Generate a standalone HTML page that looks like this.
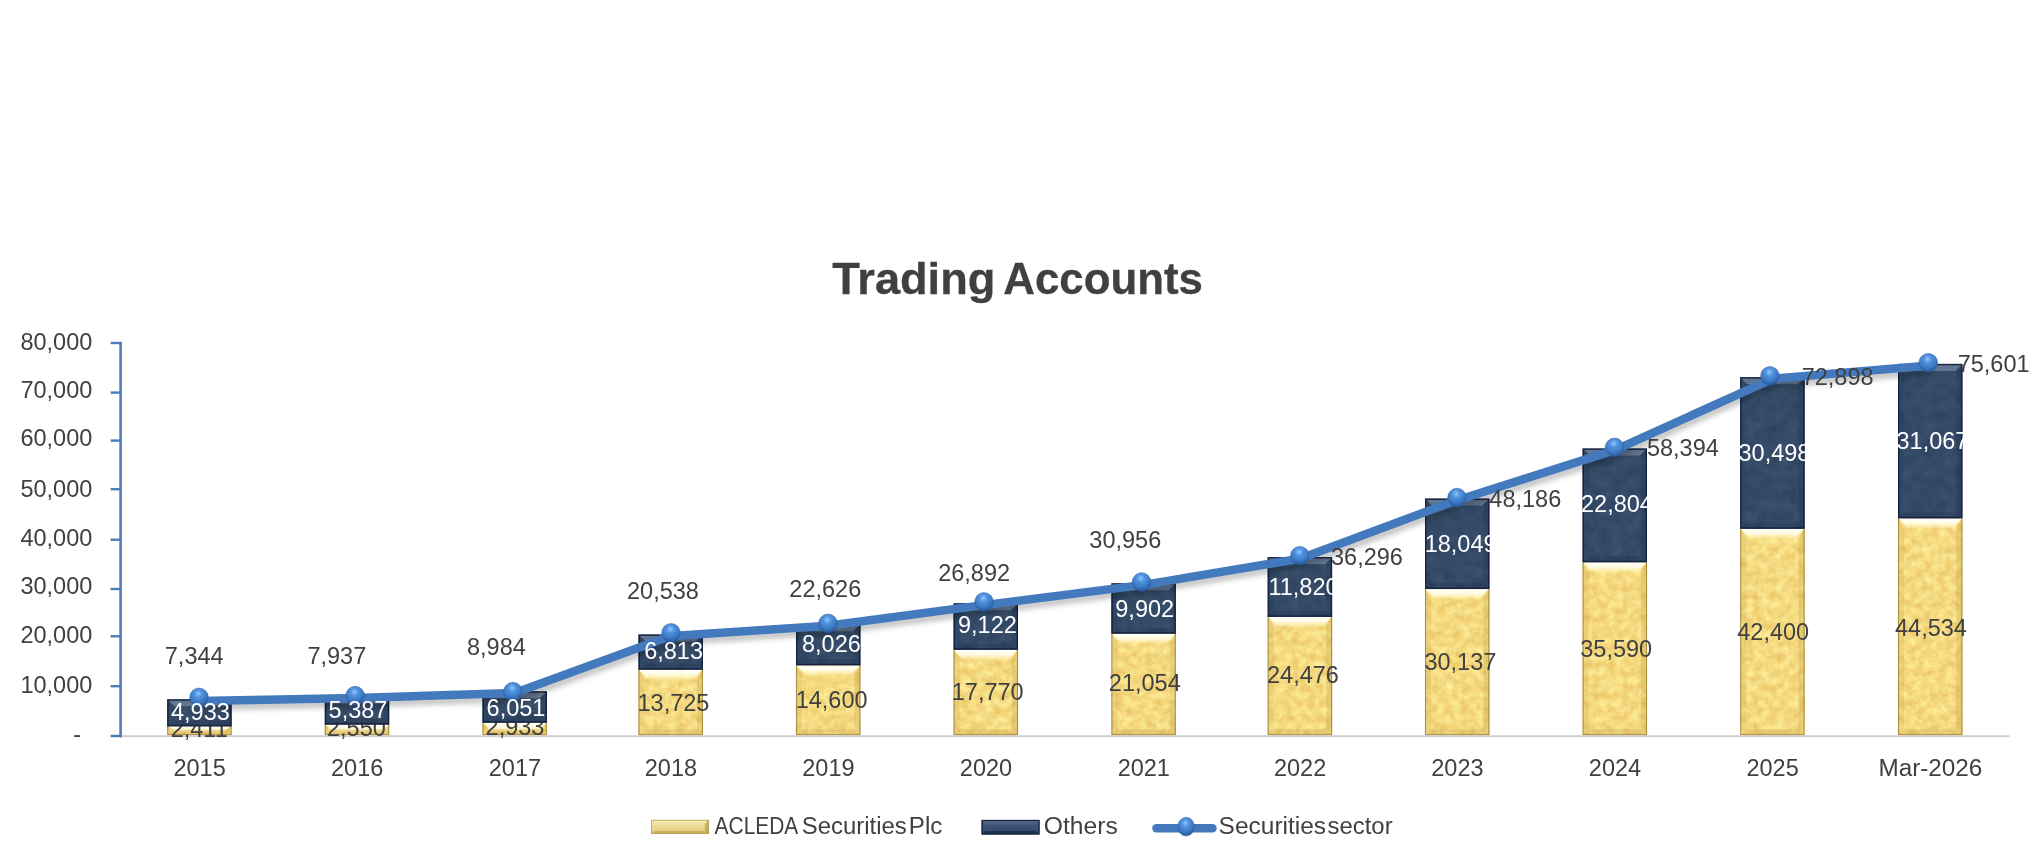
<!DOCTYPE html>
<html lang="en"><head><meta charset="utf-8"><title>Trading Accounts</title>
<style>
html,body{margin:0;padding:0;background:#fff;}
body{width:2034px;height:857px;overflow:hidden;font-family:"Liberation Sans",sans-serif;}
svg{display:block;position:absolute;left:0;top:0;}
text{font-family:"Liberation Sans",sans-serif;}
.lb{font-size:23.5px;fill:#404040;text-anchor:middle;}
.lw{font-size:23.5px;fill:#ffffff;text-anchor:middle;}
.ax{font-size:23.5px;fill:#404040;text-anchor:end;}
.lg{font-size:23.5px;fill:#404040;}
.ttl{font-size:44.3px;font-weight:bold;fill:#404040;stroke:#404040;stroke-width:0.3px;stroke-linejoin:round;}
</style></head><body>
<svg width="2034" height="857" viewBox="0 0 2034 857">
<defs>
<filter id="tex" x="0" y="0" width="100%" height="100%" color-interpolation-filters="sRGB">
<feTurbulence type="fractalNoise" baseFrequency="0.13" numOctaves="3" seed="11" result="n"/>
<feColorMatrix in="n" type="matrix" values="0.1 0 0 0 0.91  0.24 0 0 0 0.735  0.3 0 0 0 0.355  0 0 0 0 1" result="g"/>
<feComposite in="g" in2="SourceGraphic" operator="in"/>
</filter>
<filter id="texd" x="0" y="0" width="100%" height="100%" color-interpolation-filters="sRGB">
<feTurbulence type="fractalNoise" baseFrequency="0.09" numOctaves="2" seed="5" result="n"/>
<feColorMatrix in="n" type="matrix" values="0.08 0 0 0 0.166  0.09 0 0 0 0.248  0.1 0 0 0 0.355  0 0 0 0 1" result="g"/>
<feComposite in="g" in2="SourceGraphic" operator="in"/>
</filter>
<linearGradient id="gTop" x1="0" y1="0" x2="0" y2="1"><stop offset="0" stop-color="#ffffff" stop-opacity="1"/><stop offset="0.5" stop-color="#fffde8" stop-opacity="0.96"/><stop offset="0.8" stop-color="#fff6c4" stop-opacity="0.7"/><stop offset="1" stop-color="#fff0b0" stop-opacity="0.2"/></linearGradient>
<linearGradient id="lgG" x1="0" y1="0" x2="0" y2="1"><stop offset="0" stop-color="#f8efc0"/><stop offset="0.35" stop-color="#efe09c"/><stop offset="1" stop-color="#dcc574"/></linearGradient>
<linearGradient id="lgD" x1="0" y1="0" x2="0" y2="1"><stop offset="0" stop-color="#5d7290"/><stop offset="0.4" stop-color="#3d5373"/><stop offset="1" stop-color="#31466a"/></linearGradient>
<radialGradient id="mk" cx="0.46" cy="0.30" r="0.68"><stop offset="0" stop-color="#8ec8ff"/><stop offset="0.3" stop-color="#5293df"/><stop offset="0.7" stop-color="#3c79c4"/><stop offset="1" stop-color="#28599e"/></radialGradient>
<filter id="sh" x="-5%" y="-20%" width="110%" height="150%"><feGaussianBlur stdDeviation="2.7"/></filter>
<filter id="soft"><feGaussianBlur stdDeviation="0.6"/></filter>
</defs>
<g filter="url(#soft)">

<text class="ttl" y="293.9"><tspan x="832.2" textLength="163.2" lengthAdjust="spacingAndGlyphs">Trading</tspan> <tspan x="1003.3" textLength="199.6" lengthAdjust="spacingAndGlyphs">Accounts</tspan></text>
<text class="ax" x="81" y="742.3">-</text>
<text class="ax" x="92.3" y="693.4">10,000</text>
<text class="ax" x="92.3" y="643.3">20,000</text>
<text class="ax" x="92.3" y="594.0">30,000</text>
<text class="ax" x="92.3" y="546.2">40,000</text>
<text class="ax" x="92.3" y="496.6">50,000</text>
<text class="ax" x="92.3" y="446.2">60,000</text>
<text class="ax" x="92.3" y="398.0">70,000</text>
<text class="ax" x="92.3" y="350.2">80,000</text>
<g><rect x="167.2" y="724.4" width="64.4" height="10.8" fill="#ecd080" filter="url(#tex)"/><polygon points="167.2,724.4 231.6,724.4 223.2,732.5 175.6,732.5" fill="url(#gTop)"/><polygon points="167.2,724.4 172.6,732.5 172.6,729.8 167.2,735.2" fill="#c9a850" opacity="0.22"/><polygon points="231.6,724.4 226.2,732.5 226.2,729.8 231.6,735.2" fill="#b8963c" opacity="0.25"/><polygon points="167.2,735.2 172.6,729.8 226.2,729.8 231.6,735.2" fill="#c29f48" opacity="0.3"/><rect x="167.7" y="724.9" width="63.4" height="9.8" fill="none" stroke="#8f732a" stroke-width="1.1" opacity="0.7"/></g>
<g><rect x="324.8" y="723.7" width="64.4" height="11.5" fill="#ecd080" filter="url(#tex)"/><polygon points="324.8,723.7 389.2,723.7 380.4,732.3 333.6,732.3" fill="url(#gTop)"/><polygon points="324.8,723.7 330.6,732.3 330.6,729.4 324.8,735.2" fill="#c9a850" opacity="0.22"/><polygon points="389.2,723.7 383.4,732.3 383.4,729.4 389.2,735.2" fill="#b8963c" opacity="0.25"/><polygon points="324.8,735.2 330.6,729.4 383.4,729.4 389.2,735.2" fill="#c29f48" opacity="0.3"/><rect x="325.3" y="724.2" width="63.4" height="10.5" fill="none" stroke="#8f732a" stroke-width="1.1" opacity="0.7"/></g>
<g><rect x="482.5" y="721.8" width="64.4" height="13.4" fill="#ecd080" filter="url(#tex)"/><polygon points="482.5,721.8 546.9,721.8 537.9,731.8 491.5,731.8" fill="url(#gTop)"/><polygon points="482.5,721.8 488.5,731.8 488.5,729.2 482.5,735.2" fill="#c9a850" opacity="0.22"/><polygon points="546.9,721.8 540.9,731.8 540.9,729.2 546.9,735.2" fill="#b8963c" opacity="0.25"/><polygon points="482.5,735.2 488.5,729.2 540.9,729.2 546.9,735.2" fill="#c29f48" opacity="0.3"/><rect x="483.0" y="722.3" width="63.4" height="12.4" fill="none" stroke="#8f732a" stroke-width="1.1" opacity="0.7"/></g>
<g><rect x="638.5" y="668.8" width="64.4" height="66.4" fill="#ecd080" filter="url(#tex)"/><polygon points="638.5,668.8 702.9,668.8 693.9,679.8 647.5,679.8" fill="url(#gTop)"/><polygon points="638.5,668.8 644.5,679.8 644.5,729.2 638.5,735.2" fill="#c9a850" opacity="0.22"/><polygon points="702.9,668.8 696.9,679.8 696.9,729.2 702.9,735.2" fill="#b8963c" opacity="0.25"/><polygon points="638.5,735.2 644.5,729.2 696.9,729.2 702.9,735.2" fill="#c29f48" opacity="0.3"/><rect x="639.0" y="669.3" width="63.4" height="65.4" fill="none" stroke="#8f732a" stroke-width="1.1" opacity="0.7"/></g>
<g><rect x="796.0" y="664.5" width="64.4" height="70.7" fill="#ecd080" filter="url(#tex)"/><polygon points="796.0,664.5 860.4,664.5 851.4,675.5 805.0,675.5" fill="url(#gTop)"/><polygon points="796.0,664.5 802.0,675.5 802.0,729.2 796.0,735.2" fill="#c9a850" opacity="0.22"/><polygon points="860.4,664.5 854.4,675.5 854.4,729.2 860.4,735.2" fill="#b8963c" opacity="0.25"/><polygon points="796.0,735.2 802.0,729.2 854.4,729.2 860.4,735.2" fill="#c29f48" opacity="0.3"/><rect x="796.5" y="665.0" width="63.4" height="69.7" fill="none" stroke="#8f732a" stroke-width="1.1" opacity="0.7"/></g>
<g><rect x="953.6" y="648.9" width="64.4" height="86.3" fill="#ecd080" filter="url(#tex)"/><polygon points="953.6,648.9 1018.0,648.9 1009.0,659.9 962.6,659.9" fill="url(#gTop)"/><polygon points="953.6,648.9 959.6,659.9 959.6,729.2 953.6,735.2" fill="#c9a850" opacity="0.22"/><polygon points="1018.0,648.9 1012.0,659.9 1012.0,729.2 1018.0,735.2" fill="#b8963c" opacity="0.25"/><polygon points="953.6,735.2 959.6,729.2 1012.0,729.2 1018.0,735.2" fill="#c29f48" opacity="0.3"/><rect x="954.1" y="649.4" width="63.4" height="85.3" fill="none" stroke="#8f732a" stroke-width="1.1" opacity="0.7"/></g>
<g><rect x="1111.4" y="632.7" width="64.4" height="102.5" fill="#ecd080" filter="url(#tex)"/><polygon points="1111.4,632.7 1175.8,632.7 1166.8,643.7 1120.4,643.7" fill="url(#gTop)"/><polygon points="1111.4,632.7 1117.4,643.7 1117.4,729.2 1111.4,735.2" fill="#c9a850" opacity="0.22"/><polygon points="1175.8,632.7 1169.8,643.7 1169.8,729.2 1175.8,735.2" fill="#b8963c" opacity="0.25"/><polygon points="1111.4,735.2 1117.4,729.2 1169.8,729.2 1175.8,735.2" fill="#c29f48" opacity="0.3"/><rect x="1111.9" y="633.2" width="63.4" height="101.5" fill="none" stroke="#8f732a" stroke-width="1.1" opacity="0.7"/></g>
<g><rect x="1267.7" y="615.9" width="64.4" height="119.3" fill="#ecd080" filter="url(#tex)"/><polygon points="1267.7,615.9 1332.1,615.9 1323.1,626.9 1276.7,626.9" fill="url(#gTop)"/><polygon points="1267.7,615.9 1273.7,626.9 1273.7,729.2 1267.7,735.2" fill="#c9a850" opacity="0.22"/><polygon points="1332.1,615.9 1326.1,626.9 1326.1,729.2 1332.1,735.2" fill="#b8963c" opacity="0.25"/><polygon points="1267.7,735.2 1273.7,729.2 1326.1,729.2 1332.1,735.2" fill="#c29f48" opacity="0.3"/><rect x="1268.2" y="616.4" width="63.4" height="118.3" fill="none" stroke="#8f732a" stroke-width="1.1" opacity="0.7"/></g>
<g><rect x="1425.0" y="588.1" width="64.4" height="147.1" fill="#ecd080" filter="url(#tex)"/><polygon points="1425.0,588.1 1489.4,588.1 1480.4,599.1 1434.0,599.1" fill="url(#gTop)"/><polygon points="1425.0,588.1 1431.0,599.1 1431.0,729.2 1425.0,735.2" fill="#c9a850" opacity="0.22"/><polygon points="1489.4,588.1 1483.4,599.1 1483.4,729.2 1489.4,735.2" fill="#b8963c" opacity="0.25"/><polygon points="1425.0,735.2 1431.0,729.2 1483.4,729.2 1489.4,735.2" fill="#c29f48" opacity="0.3"/><rect x="1425.5" y="588.6" width="63.4" height="146.1" fill="none" stroke="#8f732a" stroke-width="1.1" opacity="0.7"/></g>
<g><rect x="1582.6" y="561.3" width="64.4" height="173.9" fill="#ecd080" filter="url(#tex)"/><polygon points="1582.6,561.3 1647.0,561.3 1638.0,572.3 1591.6,572.3" fill="url(#gTop)"/><polygon points="1582.6,561.3 1588.6,572.3 1588.6,729.2 1582.6,735.2" fill="#c9a850" opacity="0.22"/><polygon points="1647.0,561.3 1641.0,572.3 1641.0,729.2 1647.0,735.2" fill="#b8963c" opacity="0.25"/><polygon points="1582.6,735.2 1588.6,729.2 1641.0,729.2 1647.0,735.2" fill="#c29f48" opacity="0.3"/><rect x="1583.1" y="561.8" width="63.4" height="172.9" fill="none" stroke="#8f732a" stroke-width="1.1" opacity="0.7"/></g>
<g><rect x="1740.2" y="527.9" width="64.4" height="207.3" fill="#ecd080" filter="url(#tex)"/><polygon points="1740.2,527.9 1804.6,527.9 1795.6,538.9 1749.2,538.9" fill="url(#gTop)"/><polygon points="1740.2,527.9 1746.2,538.9 1746.2,729.2 1740.2,735.2" fill="#c9a850" opacity="0.22"/><polygon points="1804.6,527.9 1798.6,538.9 1798.6,729.2 1804.6,735.2" fill="#b8963c" opacity="0.25"/><polygon points="1740.2,735.2 1746.2,729.2 1798.6,729.2 1804.6,735.2" fill="#c29f48" opacity="0.3"/><rect x="1740.7" y="528.4" width="63.4" height="206.3" fill="none" stroke="#8f732a" stroke-width="1.1" opacity="0.7"/></g>
<g><rect x="1898.0" y="517.4" width="64.4" height="217.8" fill="#ecd080" filter="url(#tex)"/><polygon points="1898.0,517.4 1962.4,517.4 1953.4,528.4 1907.0,528.4" fill="url(#gTop)"/><polygon points="1898.0,517.4 1904.0,528.4 1904.0,729.2 1898.0,735.2" fill="#c9a850" opacity="0.22"/><polygon points="1962.4,517.4 1956.4,528.4 1956.4,729.2 1962.4,735.2" fill="#b8963c" opacity="0.25"/><polygon points="1898.0,735.2 1904.0,729.2 1956.4,729.2 1962.4,735.2" fill="#c29f48" opacity="0.3"/><rect x="1898.5" y="517.9" width="63.4" height="216.8" fill="none" stroke="#8f732a" stroke-width="1.1" opacity="0.7"/></g>
<rect x="120.6" y="735.2" width="1888.9" height="2" fill="#d2d2d2"/>
<text class="lb" x="199.2" y="737.3">2,411</text>
<text class="lb" x="356.4" y="736.4">2,550</text>
<text class="lb" x="515.0" y="735.4">2,933</text>
<text class="lb" x="673.5" y="710.8">13,725</text>
<text class="lb" x="831.6" y="708.1">14,600</text>
<text class="lb" x="987.7" y="700.3">17,770</text>
<text class="lb" x="1144.8" y="691.4">21,054</text>
<text class="lb" x="1303.0" y="683.3">24,476</text>
<text class="lb" x="1460.4" y="670.3">30,137</text>
<text class="lb" x="1616.2" y="656.7">35,590</text>
<text class="lb" x="1773.2" y="639.7">42,400</text>
<text class="lb" x="1931.0" y="636.2">44,534</text>
<g><rect x="167.2" y="699.3" width="64.4" height="27.0" fill="#364b6b" filter="url(#texd)"/><polygon points="167.2,699.3 231.6,699.3 224.6,706.3 174.2,706.3" fill="#8395ad" opacity="0.6"/><polygon points="167.2,699.3 173.2,705.3 173.2,720.4 167.2,726.4" fill="#24385a" opacity="0.15"/><polygon points="231.6,699.3 225.6,705.3 225.6,720.4 231.6,726.4" fill="#14233f" opacity="0.2"/><polygon points="167.2,726.4 173.2,720.4 225.6,720.4 231.6,726.4" fill="#14213a" opacity="0.18"/><rect x="167.9" y="700.0" width="63.0" height="25.6" fill="none" stroke="#0f1f3c" stroke-width="1.4" opacity="0.9"/></g>
<g><rect x="324.8" y="696.4" width="64.4" height="28.1" fill="#364b6b" filter="url(#texd)"/><polygon points="324.8,696.4 389.2,696.4 382.2,703.4 331.8,703.4" fill="#8395ad" opacity="0.6"/><polygon points="324.8,696.4 330.8,702.4 330.8,718.5 324.8,724.5" fill="#24385a" opacity="0.15"/><polygon points="389.2,696.4 383.2,702.4 383.2,718.5 389.2,724.5" fill="#14233f" opacity="0.2"/><polygon points="324.8,724.5 330.8,718.5 383.2,718.5 389.2,724.5" fill="#14213a" opacity="0.18"/><rect x="325.5" y="697.1" width="63.0" height="26.7" fill="none" stroke="#0f1f3c" stroke-width="1.4" opacity="0.9"/></g>
<g><rect x="482.5" y="691.3" width="64.4" height="31.3" fill="#364b6b" filter="url(#texd)"/><polygon points="482.5,691.3 546.9,691.3 539.9,698.3 489.5,698.3" fill="#8395ad" opacity="0.6"/><polygon points="482.5,691.3 488.5,697.3 488.5,716.6 482.5,722.6" fill="#24385a" opacity="0.15"/><polygon points="546.9,691.3 540.9,697.3 540.9,716.6 546.9,722.6" fill="#14233f" opacity="0.2"/><polygon points="482.5,722.6 488.5,716.6 540.9,716.6 546.9,722.6" fill="#14213a" opacity="0.18"/><rect x="483.2" y="692.0" width="63.0" height="29.9" fill="none" stroke="#0f1f3c" stroke-width="1.4" opacity="0.9"/></g>
<g><rect x="638.5" y="634.5" width="64.4" height="35.1" fill="#364b6b" filter="url(#texd)"/><polygon points="638.5,634.5 702.9,634.5 695.9,641.5 645.5,641.5" fill="#8395ad" opacity="0.6"/><polygon points="638.5,634.5 644.5,640.5 644.5,663.6 638.5,669.6" fill="#24385a" opacity="0.15"/><polygon points="702.9,634.5 696.9,640.5 696.9,663.6 702.9,669.6" fill="#14233f" opacity="0.2"/><polygon points="638.5,669.6 644.5,663.6 696.9,663.6 702.9,669.6" fill="#14213a" opacity="0.18"/><rect x="639.2" y="635.2" width="63.0" height="33.7" fill="none" stroke="#0f1f3c" stroke-width="1.4" opacity="0.9"/></g>
<g><rect x="796.0" y="624.2" width="64.4" height="41.0" fill="#364b6b" filter="url(#texd)"/><polygon points="796.0,624.2 860.4,624.2 853.4,631.2 803.0,631.2" fill="#8395ad" opacity="0.6"/><polygon points="796.0,624.2 802.0,630.2 802.0,659.3 796.0,665.3" fill="#24385a" opacity="0.15"/><polygon points="860.4,624.2 854.4,630.2 854.4,659.3 860.4,665.3" fill="#14233f" opacity="0.2"/><polygon points="796.0,665.3 802.0,659.3 854.4,659.3 860.4,665.3" fill="#14213a" opacity="0.18"/><rect x="796.7" y="624.9" width="63.0" height="39.6" fill="none" stroke="#0f1f3c" stroke-width="1.4" opacity="0.9"/></g>
<g><rect x="953.6" y="603.3" width="64.4" height="46.4" fill="#364b6b" filter="url(#texd)"/><polygon points="953.6,603.3 1018.0,603.3 1011.0,610.3 960.6,610.3" fill="#8395ad" opacity="0.6"/><polygon points="953.6,603.3 959.6,609.3 959.6,643.7 953.6,649.7" fill="#24385a" opacity="0.15"/><polygon points="1018.0,603.3 1012.0,609.3 1012.0,643.7 1018.0,649.7" fill="#14233f" opacity="0.2"/><polygon points="953.6,649.7 959.6,643.7 1012.0,643.7 1018.0,649.7" fill="#14213a" opacity="0.18"/><rect x="954.3" y="604.0" width="63.0" height="45.0" fill="none" stroke="#0f1f3c" stroke-width="1.4" opacity="0.9"/></g>
<g><rect x="1111.4" y="583.3" width="64.4" height="50.3" fill="#364b6b" filter="url(#texd)"/><polygon points="1111.4,583.3 1175.8,583.3 1168.8,590.3 1118.4,590.3" fill="#8395ad" opacity="0.6"/><polygon points="1111.4,583.3 1117.4,589.3 1117.4,627.5 1111.4,633.5" fill="#24385a" opacity="0.15"/><polygon points="1175.8,583.3 1169.8,589.3 1169.8,627.5 1175.8,633.5" fill="#14233f" opacity="0.2"/><polygon points="1111.4,633.5 1117.4,627.5 1169.8,627.5 1175.8,633.5" fill="#14213a" opacity="0.18"/><rect x="1112.1" y="584.0" width="63.0" height="48.9" fill="none" stroke="#0f1f3c" stroke-width="1.4" opacity="0.9"/></g>
<g><rect x="1267.7" y="557.1" width="64.4" height="59.7" fill="#364b6b" filter="url(#texd)"/><polygon points="1267.7,557.1 1332.1,557.1 1325.1,564.1 1274.7,564.1" fill="#8395ad" opacity="0.6"/><polygon points="1267.7,557.1 1273.7,563.1 1273.7,610.7 1267.7,616.7" fill="#24385a" opacity="0.15"/><polygon points="1332.1,557.1 1326.1,563.1 1326.1,610.7 1332.1,616.7" fill="#14233f" opacity="0.2"/><polygon points="1267.7,616.7 1273.7,610.7 1326.1,610.7 1332.1,616.7" fill="#14213a" opacity="0.18"/><rect x="1268.4" y="557.8" width="63.0" height="58.3" fill="none" stroke="#0f1f3c" stroke-width="1.4" opacity="0.9"/></g>
<g><rect x="1425.0" y="498.6" width="64.4" height="90.3" fill="#364b6b" filter="url(#texd)"/><polygon points="1425.0,498.6 1489.4,498.6 1482.4,505.6 1432.0,505.6" fill="#8395ad" opacity="0.6"/><polygon points="1425.0,498.6 1431.0,504.6 1431.0,582.9 1425.0,588.9" fill="#24385a" opacity="0.15"/><polygon points="1489.4,498.6 1483.4,504.6 1483.4,582.9 1489.4,588.9" fill="#14233f" opacity="0.2"/><polygon points="1425.0,588.9 1431.0,582.9 1483.4,582.9 1489.4,588.9" fill="#14213a" opacity="0.18"/><rect x="1425.7" y="499.3" width="63.0" height="88.9" fill="none" stroke="#0f1f3c" stroke-width="1.4" opacity="0.9"/></g>
<g><rect x="1582.6" y="448.5" width="64.4" height="113.7" fill="#364b6b" filter="url(#texd)"/><polygon points="1582.6,448.5 1647.0,448.5 1640.0,455.5 1589.6,455.5" fill="#8395ad" opacity="0.6"/><polygon points="1582.6,448.5 1588.6,454.5 1588.6,556.1 1582.6,562.1" fill="#24385a" opacity="0.15"/><polygon points="1647.0,448.5 1641.0,454.5 1641.0,556.1 1647.0,562.1" fill="#14233f" opacity="0.2"/><polygon points="1582.6,562.1 1588.6,556.1 1641.0,556.1 1647.0,562.1" fill="#14213a" opacity="0.18"/><rect x="1583.3" y="449.2" width="63.0" height="112.3" fill="none" stroke="#0f1f3c" stroke-width="1.4" opacity="0.9"/></g>
<g><rect x="1740.2" y="377.2" width="64.4" height="151.5" fill="#364b6b" filter="url(#texd)"/><polygon points="1740.2,377.2 1804.6,377.2 1797.6,384.2 1747.2,384.2" fill="#8395ad" opacity="0.6"/><polygon points="1740.2,377.2 1746.2,383.2 1746.2,522.7 1740.2,528.7" fill="#24385a" opacity="0.15"/><polygon points="1804.6,377.2 1798.6,383.2 1798.6,522.7 1804.6,528.7" fill="#14233f" opacity="0.2"/><polygon points="1740.2,528.7 1746.2,522.7 1798.6,522.7 1804.6,528.7" fill="#14213a" opacity="0.18"/><rect x="1740.9" y="377.9" width="63.0" height="150.1" fill="none" stroke="#0f1f3c" stroke-width="1.4" opacity="0.9"/></g>
<g><rect x="1898.0" y="363.9" width="64.4" height="154.3" fill="#364b6b" filter="url(#texd)"/><polygon points="1898.0,363.9 1962.4,363.9 1955.4,370.9 1905.0,370.9" fill="#8395ad" opacity="0.6"/><polygon points="1898.0,363.9 1904.0,369.9 1904.0,512.2 1898.0,518.2" fill="#24385a" opacity="0.15"/><polygon points="1962.4,363.9 1956.4,369.9 1956.4,512.2 1962.4,518.2" fill="#14233f" opacity="0.2"/><polygon points="1898.0,518.2 1904.0,512.2 1956.4,512.2 1962.4,518.2" fill="#14213a" opacity="0.18"/><rect x="1898.7" y="364.6" width="63.0" height="152.9" fill="none" stroke="#0f1f3c" stroke-width="1.4" opacity="0.9"/></g>
<rect x="119.3" y="341.9" width="2.6" height="395.5" fill="#4a7ebb"/>
<rect x="110.6" y="734.8" width="10" height="2.4" fill="#4a7ebb"/>
<rect x="110.6" y="685.0" width="10" height="2.4" fill="#4a7ebb"/>
<rect x="110.6" y="635.1" width="10" height="2.4" fill="#4a7ebb"/>
<rect x="110.6" y="587.8" width="10" height="2.4" fill="#4a7ebb"/>
<rect x="110.6" y="538.5" width="10" height="2.4" fill="#4a7ebb"/>
<rect x="110.6" y="488.0" width="10" height="2.4" fill="#4a7ebb"/>
<rect x="110.6" y="439.4" width="10" height="2.4" fill="#4a7ebb"/>
<rect x="110.6" y="391.4" width="10" height="2.4" fill="#4a7ebb"/>
<rect x="110.6" y="341.8" width="10" height="2.4" fill="#4a7ebb"/>
<polyline points="199.4,700.9 357.0,698.0 514.7,692.9 670.7,636.1 828.2,625.8 985.8,604.9 1143.6,584.9 1299.9,558.7 1457.2,500.2 1614.8,450.1 1772.4,378.8 1930.2,365.5" fill="none" stroke="#000" stroke-opacity="0.22" stroke-width="8" stroke-linejoin="round" transform="translate(1.5,5.5)" filter="url(#sh)"/>
<polyline points="199.4,700.9 357.0,698.0 514.7,692.9 670.7,636.1 828.2,625.8 985.8,604.9 1143.6,584.9 1299.9,558.7 1457.2,500.2 1614.8,450.1 1772.4,378.8 1930.2,365.5" fill="none" stroke="#437abd" stroke-width="8.5" stroke-linejoin="round" stroke-linecap="round"/>
<circle cx="199.0" cy="697.3" r="9.3" fill="url(#mk)" stroke="#2d5c9c" stroke-opacity="0.55" stroke-width="0.9"/>
<circle cx="355.1" cy="695.6" r="9.3" fill="url(#mk)" stroke="#2d5c9c" stroke-opacity="0.55" stroke-width="0.9"/>
<circle cx="512.9" cy="691.6" r="9.3" fill="url(#mk)" stroke="#2d5c9c" stroke-opacity="0.55" stroke-width="0.9"/>
<circle cx="671.0" cy="632.8" r="9.3" fill="url(#mk)" stroke="#2d5c9c" stroke-opacity="0.55" stroke-width="0.9"/>
<circle cx="828.0" cy="623.4" r="9.3" fill="url(#mk)" stroke="#2d5c9c" stroke-opacity="0.55" stroke-width="0.9"/>
<circle cx="984.0" cy="601.9" r="9.3" fill="url(#mk)" stroke="#2d5c9c" stroke-opacity="0.55" stroke-width="0.9"/>
<circle cx="1141.6" cy="582.0" r="9.3" fill="url(#mk)" stroke="#2d5c9c" stroke-opacity="0.55" stroke-width="0.9"/>
<circle cx="1299.8" cy="555.7" r="9.3" fill="url(#mk)" stroke="#2d5c9c" stroke-opacity="0.55" stroke-width="0.9"/>
<circle cx="1457.0" cy="497.5" r="9.3" fill="url(#mk)" stroke="#2d5c9c" stroke-opacity="0.55" stroke-width="0.9"/>
<circle cx="1614.6" cy="447.3" r="9.3" fill="url(#mk)" stroke="#2d5c9c" stroke-opacity="0.55" stroke-width="0.9"/>
<circle cx="1769.9" cy="375.9" r="9.3" fill="url(#mk)" stroke="#2d5c9c" stroke-opacity="0.55" stroke-width="0.9"/>
<circle cx="1928.3" cy="362.7" r="9.3" fill="url(#mk)" stroke="#2d5c9c" stroke-opacity="0.55" stroke-width="0.9"/>
<text class="lw" x="200.4" y="720.2">4,933</text>
<text class="lw" x="358.0" y="717.6">5,387</text>
<text class="lw" x="516.0" y="715.7">6,051</text>
<text class="lw" x="673.6" y="659.2">6,813</text>
<text class="lw" x="831.4" y="652.4">8,026</text>
<text class="lw" x="987.4" y="633.4">9,122</text>
<text class="lw" x="1144.7" y="616.6">9,902</text>
<text class="lw" x="1303.5" y="594.8">11,820</text>
<text class="lw" x="1460.6" y="551.9">18,049</text>
<text class="lw" x="1617.0" y="512.0">22,804</text>
<text class="lw" x="1774.5" y="460.8">30,498</text>
<text class="lw" x="1932.5" y="449.3">31,067</text>
<text class="lb" x="194.2" y="663.9">7,344</text>
<text class="lb" x="336.8" y="663.9">7,937</text>
<text class="lb" x="496.4" y="654.6">8,984</text>
<text class="lb" x="663.0" y="598.9">20,538</text>
<text class="lb" x="825.3" y="596.8">22,626</text>
<text class="lb" x="974.1" y="581.3">26,892</text>
<text class="lb" x="1125.3" y="548.4">30,956</text>
<text class="lb" x="1367.0" y="565.4">36,296</text>
<text class="lb" x="1525.3" y="506.6">48,186</text>
<text class="lb" x="1682.9" y="455.5">58,394</text>
<text class="lb" x="1837.6" y="384.6">72,898</text>
<text class="lb" x="1993.6" y="371.7">75,601</text>
<text class="lb" x="199.6" y="775.9">2015</text>
<text class="lb" x="357.2" y="775.9">2016</text>
<text class="lb" x="514.9" y="775.9">2017</text>
<text class="lb" x="670.9" y="775.9">2018</text>
<text class="lb" x="828.4" y="775.9">2019</text>
<text class="lb" x="986.0" y="775.9">2020</text>
<text class="lb" x="1143.8" y="775.9">2021</text>
<text class="lb" x="1300.1" y="775.9">2022</text>
<text class="lb" x="1457.4" y="775.9">2023</text>
<text class="lb" x="1615.0" y="775.9">2024</text>
<text class="lb" x="1772.6" y="775.9">2025</text>
<text class="lb" x="1930.4" y="775.9" textLength="104" lengthAdjust="spacingAndGlyphs">Mar-2026</text>
<g><rect x="651.0" y="819.8" width="57.9" height="14.2" fill="url(#lgG)"/><rect x="651.5" y="820.3" width="56.9" height="13.2" fill="none" stroke="#b9a14e" stroke-width="1" opacity="0.8"/><polygon points="708.9,819.8 704.9,823.8 704.9,831.0 708.9,834.0" fill="#a88e3e" opacity="0.55"/><polygon points="651.0,834.0 655.0,831.0 704.9,831.0 708.9,834.0" fill="#b59a48" opacity="0.6"/></g>
<text class="lg" y="834.3"><tspan x="714.6" textLength="82.5" lengthAdjust="spacingAndGlyphs">ACLEDA</tspan> <tspan x="801.8" textLength="105" lengthAdjust="spacingAndGlyphs">Securities</tspan> <tspan x="908.8" textLength="33.5" lengthAdjust="spacingAndGlyphs">Plc</tspan></text>
<g><rect x="981.5" y="819.9" width="58.1" height="14.5" fill="url(#lgD)"/><rect x="982.1" y="820.5" width="56.9" height="13.3" fill="none" stroke="#15243f" stroke-width="1.2"/><polygon points="981.5,834.4 985.5,830.9 1035.6,830.9 1039.6,834.4" fill="#1a2a46" opacity="0.8"/></g>
<text class="lg" x="1043.8" y="834.4" textLength="74" lengthAdjust="spacingAndGlyphs">Others</text>
<line x1="1156.4" y1="828.2" x2="1212.5" y2="828.2" stroke="#437abd" stroke-width="8.4" stroke-linecap="round"/>
<ellipse cx="1186.1" cy="826.7" rx="8.3" ry="9.4" fill="url(#mk)" stroke="#2d5c9c" stroke-opacity="0.55" stroke-width="0.9"/>
<text class="lg" y="834.4"><tspan x="1218.6" textLength="107.5" lengthAdjust="spacingAndGlyphs">Securities</tspan> <tspan x="1327.6" textLength="65" lengthAdjust="spacingAndGlyphs">sector</tspan></text>
</g></svg></body></html>
